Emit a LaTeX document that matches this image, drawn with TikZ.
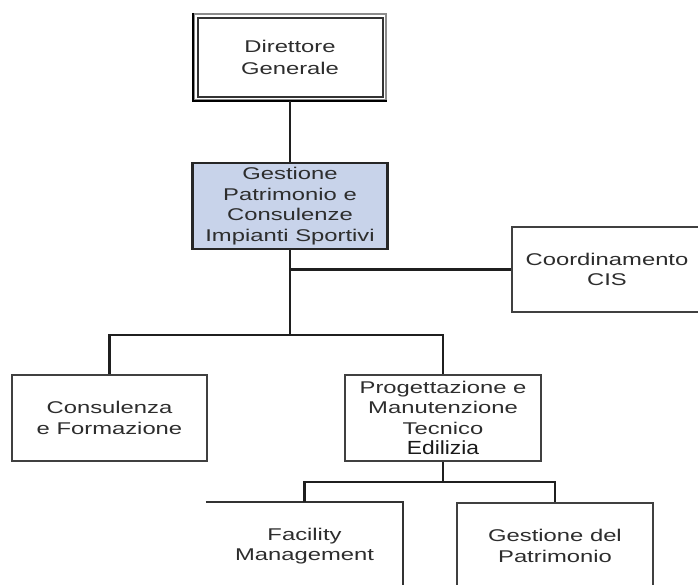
\documentclass[tikz,border=0pt]{standalone}
\usepackage{fontspec}
\setmainfont{Liberation Sans}[FakeStretch=1.4]
\newfontfamily\edfont{Liberation Sans}[FakeStretch=1.2]
\usetikzlibrary{calc}
\definecolor{boxblue}{RGB}{200,211,234}
\definecolor{txtgray}{RGB}{45,45,45}
\begin{document}
\begin{tikzpicture}[x=1pt,y=-1pt,
  orgbox/.style={rectangle, draw=black!75, line width=2.2pt, minimum width=195pt, minimum height=86pt,
    inner sep=0pt, align=center, text=txtgray, font=\fontsize{17}{20.5}\selectfont},
  conn/.style={draw=black!88, line width=2.8pt}]
\useasboundingbox (0,0) rectangle (698,585);
\clip (0,0) rectangle (698,585);
\fill[white] (0,0) rectangle (698,585);
% boxes
\node[orgbox, draw=black!45, minimum width=192pt, font=\fontsize{17}{22}\selectfont] (dir) at (290,57) {Direttore\\Generale};
\draw[black!80, line width=1.6pt] ($(dir.north west)+(5,5)$) rectangle ($(dir.south east)+(-4,-4)$);
\draw[black, line width=2.6pt] (dir.north west) -- (dir.south west) -- (dir.south east);
\node[orgbox, fill=boxblue, draw=black!85] (ges) at (290,206) {Gestione\\Patrimonio e\\Consulenze\\Impianti Sportivi};
\node[orgbox, minimum width=190pt, minimum height=85pt] (coord) at (607,269.5) {Coordinamento\\CIS};
\node[orgbox] (cons) at (109.5,418) {Consulenza\\e Formazione};
\node[orgbox, minimum width=196pt] (prog) at (443,418) {Progettazione e\\Manutenzione\\Tecnico\\{\edfont\fontsize{19}{20.5}\selectfont\color{black!90}Edilizia}};
\node[orgbox, draw=none] (fac) at (304.5,546) {Facility\\Management};
\draw[black!80, line width=2.2pt] (fac.north west) -- (fac.north east) -- (fac.south east);
\node[orgbox, minimum width=196pt] (gdp) at (555,546) {Gestione del\\Patrimonio};
% connectors
\coordinate (j1) at (290,335);
\coordinate (j2) at (443,482);
\draw[conn] (dir.south) -- (ges.north);
\draw[conn] (ges.south) -- (j1);
\draw[conn] (ges.south |- coord.west) -- (coord.west);
\draw[conn] (cons.north) -- (cons.north |- j1) -- (prog.north |- j1) -- (prog.north);
\draw[conn] (prog.south) -- (j2);
\draw[conn] (fac.north) -- (fac.north |- j2) -- (gdp.north |- j2) -- (gdp.north);
\end{tikzpicture}
\end{document}
